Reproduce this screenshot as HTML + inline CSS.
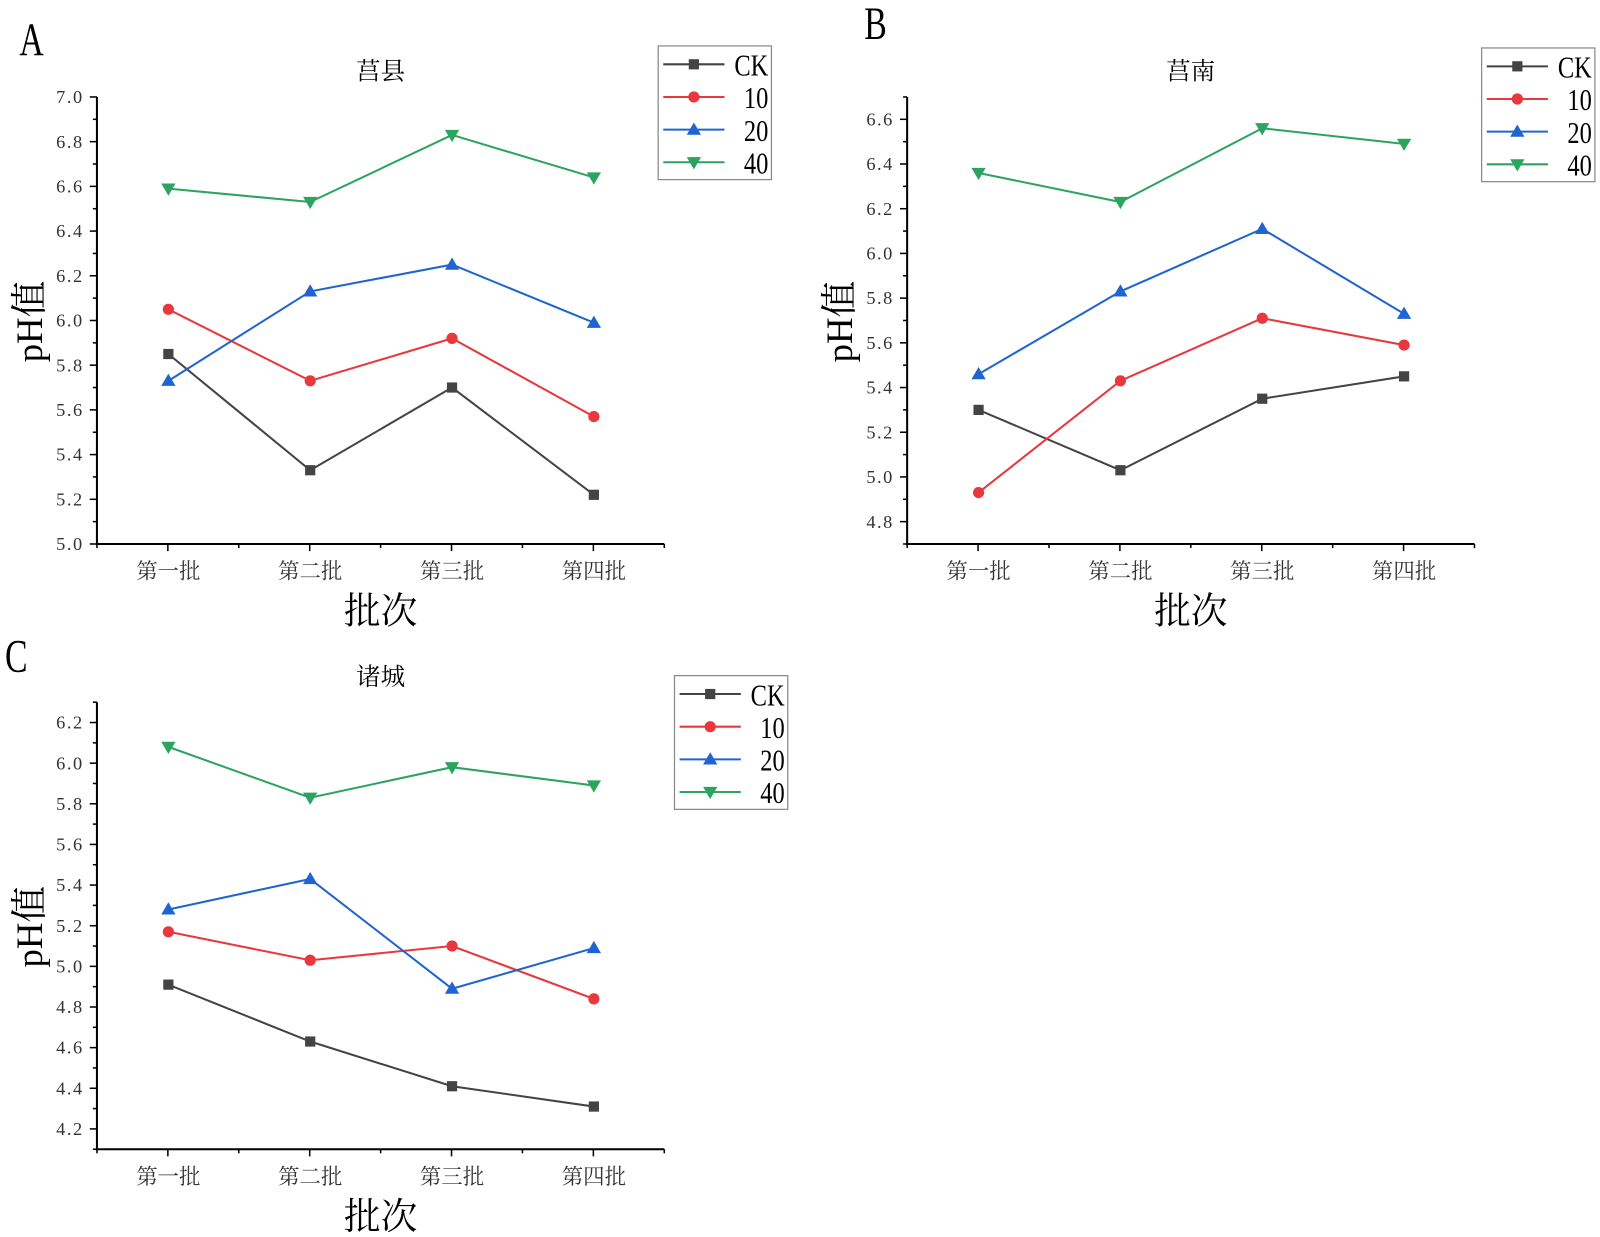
<!DOCTYPE html>
<html><head><meta charset="utf-8"><style>
html,body{margin:0;padding:0;background:#fff;}
svg{display:block;}
text{font-family:"Liberation Serif","Noto Serif CJK SC",serif;}
</style></head><body>
<svg id="chart" width="1600" height="1237" viewBox="0 0 1568 1212" preserveAspectRatio="none" xmlns="http://www.w3.org/2000/svg"></svg>
<script>
const categories = ["第一批","第二批","第三批","第四批"];
const seriesNames = ["CK","10","20","40"];
const aCK = [5.85,5.33,5.70,5.22];
const a10 = [6.05,5.73,5.92,5.57];
const a20 = [5.73,6.13,6.25,5.99];
const a40 = [6.59,6.53,6.83,6.64];
const bCK = [5.30,5.03,5.35,5.45];
const b10 = [4.93,5.43,5.71,5.59];
const b20 = [5.46,5.83,6.11,5.73];
const b40 = [6.36,6.23,6.56,6.49];
const cCK = [4.91,4.63,4.41,4.31];
const c10 = [5.17,5.03,5.10,4.84];
const c20 = [5.28,5.43,4.89,5.09];
const c40 = [6.08,5.83,5.98,5.89];
const aTicks = ["5.0","5.2","5.4","5.6","5.8","6.0","6.2","6.4","6.6","6.8","7.0"];
const bTicks = ["4.8","5.0","5.2","5.4","5.6","5.8","6.0","6.2","6.4","6.6"];
const cTicks = ["4.2","4.4","4.6","4.8","5.0","5.2","5.4","5.6","5.8","6.0","6.2"];

const colors = ["#444444","#e8383d","#1f64d1","#2ca35f"];
const markers = ["square","circle","up","down"];
const NS = "http://www.w3.org/2000/svg";
const svg = document.getElementById("chart");
function mk(tag, attrs, parent, txt){
  const e = document.createElementNS(NS, tag);
  for (const k in attrs) e.setAttribute(k, attrs[k]);
  if (txt !== undefined) e.textContent = txt;
  (parent||svg).appendChild(e);
  return e;
}
function marker(g, type, x, y, c){
  let m;
  if (type==="square") m = mk("rect",{x:x-5,y:y-5,width:10,height:10,fill:c},g);
  else if (type==="circle") m = mk("circle",{cx:x,cy:y,r:5.5,fill:c},g);
  else if (type==="up") m = mk("polygon",{points:`${x},${y-7} ${x-7},${y+5} ${x+7},${y+5}`,fill:c},g);
  else m = mk("polygon",{points:`${x},${y+7} ${x-7},${y-5} ${x+7},${y-5}`,fill:c},g);
  
  
}
function panel(p){
  const g = mk("g",{});
  
  
  const L=p.left, R=p.left+556, T=p.top, B=p.top+438;
  const ys = v => B - (v - p.min)/(p.max - p.min)*(B-T);
  const xs = i => L + 70 + i*139;
  const lt = mk("text",{x:p.lx,y:p.ly,"font-size":46,"text-anchor":"middle",transform:`translate(${p.lx},${p.ly}) scale(0.72,1) translate(${-p.lx},${-p.ly})`},g,p.letter);
   
  const tt = mk("text",{x:L+278,y:T-17,"font-size":24,"text-anchor":"middle"},g,p.title);
   
  const ax = mk("path",{d:`M${L},${T} V${B} H${R}`,stroke:"#000","stroke-width":2,fill:"none"},g);
   
  for (let v = p.min; v <= p.max + 1e-6; v += 0.1){
    const y = ys(v);
    const isMajor = Math.abs(Math.round(v*10)%2)===0;
    mk("line",{x1:L-(isMajor?7:4),x2:L,y1:y,y2:y,stroke:"#000","stroke-width":1.5},g);
  }
  p.ticks.forEach(t=>{
    const y = ys(parseFloat(t));
    const tl = mk("text",{x:L-13,y:y+6,"font-size":18,"letter-spacing":"1.5","text-anchor":"end",fill:"#333"},g,t);
     
  });
  for (let k=0;k<=8;k++){
    const x = L + k*69.5;
    mk("line",{x1:x,x2:x,y1:B,y2:B+(k%2?7:4),stroke:"#000","stroke-width":1.5},g);
  }
  categories.forEach((c,i)=>{
    const cl = mk("text",{x:xs(i),y:B+34,"font-size":21,"text-anchor":"middle",fill:"#333"},g,c);
     
  });
  const xt = mk("text",{x:L+278,y:B+78,"font-size":36,"text-anchor":"middle"},g,"批次");
   
  const yx = L-54, yy = T+220;
  const yt = mk("text",{x:yx,y:yy,"font-size":36,"text-anchor":"middle",transform:`rotate(-90 ${yx} ${yy})`},g,"pH值");
   
  p.series.forEach((s,si)=>{
    const sg = mk("g",{},g);
    
    
    mk("polyline",{points:s.map((v,i)=>`${xs(i)},${ys(v)}`).join(" "),fill:"none",stroke:colors[si],"stroke-width":2},sg);
    s.forEach((v,i)=>marker(sg,markers[si],xs(i),ys(v),colors[si]));
  });
  const lg = mk("g",{},g);
  
  
  mk("rect",{x:p.legX,y:p.legY,width:111,height:131,fill:"#fff",stroke:"#888","stroke-width":1.2},lg);
  seriesNames.forEach((n,si)=>{
    const y = p.legY + 18 + si*32;
    const e = mk("g",{},lg);
    
    
    mk("line",{x1:p.legX+5,x2:p.legX+65,y1:y,y2:y,stroke:colors[si],"stroke-width":2},e);
    marker(e,markers[si],p.legX+35,y,colors[si]);
    const tx = p.legX+108;
    mk("text",{x:tx,y:y+11,"font-size":30,"text-anchor":"end",transform:`translate(${tx},0) scale(0.8,1) translate(${-tx},0)`},e,n);
  });
}
panel({id:"a",letter:"A",lx:31,ly:54,title:"莒县",left:95,top:95,min:5.0,max:7.0,ticks:aTicks,series:[aCK,a10,a20,a40],legX:645,legY:45});
panel({id:"b",letter:"B",lx:858,ly:38,title:"莒南",left:889,top:95,min:4.7,max:6.7,ticks:bTicks,series:[bCK,b10,b20,b40],legX:1452,legY:47});
panel({id:"c",letter:"C",lx:16,ly:658,title:"诸城",left:95,top:688,min:4.1,max:6.3,ticks:cTicks,series:[cCK,c10,c20,c40],legX:661,legY:662});
</script>
</body></html>
